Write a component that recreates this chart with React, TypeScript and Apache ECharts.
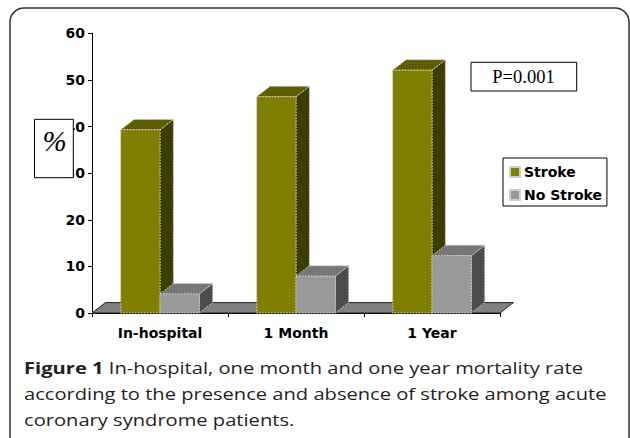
import React, { useEffect, useRef } from 'react';
import * as echarts from 'echarts';

const categories = ['In-hospital', '1 Month', '1 Year'];
const strokeValues = [39.3, 46.4, 52.1];
const noStrokeValues = [4.1, 7.9, 12.3];
const seriesNames = ['Stroke', 'No Stroke'];
const yMin = 0;
const yMax = 60;
const yInterval = 10;
const pValueText = 'P=0.001';
const yUnitText = '%';
const captionBold = 'Figure 1';
const captionLines = [
  ' In-hospital, one month and one year mortality rate',
  'according to the presence and absence of stroke among acute',
  'coronary syndrome patients.',
];

const BAR_RATIO = 0.289;
const DEPTH_X_RATIO = 0.0985;
const DEPTH_Y = 10.4;

const strokeColors = { front: '#808000', top: '#5e5e00', side: '#3d3d00' };
const noStrokeColors = { front: '#999999', top: '#777777', side: '#4d4d4d' };
const edge = { stroke: '#cfcfcf', lineWidth: 1, lineDash: [1.5, 1.5] };

const CAPTION_FONT = 'Open Sans';
const CAPTION_SIZE = 16.5;
const CAPTION_X = 24;
// measured reference: "among" begins at x≈485 on line 2
const CAPTION_REF_PREFIX = 'according to the presence and absence of stroke ';
const CAPTION_REF_WIDTH = 461;

function measure(text: string, font: string) {
  const c = document.createElement('canvas').getContext('2d');
  if (!c) return text.length * 8;
  c.font = font;
  return c.measureText(text).width;
}

function makeBarRender(colors: any, side: 'left' | 'right') {
  return (params: any, api: any) => {
    const idx = api.value(0);
    const val = api.value(1);
    const top = api.coord([idx, val]);
    const base = api.coord([idx, 0]);
    const band = api.size([1, 0])[0];
    const w = band * BAR_RATIO;
    const x0 = side === 'left' ? top[0] - w : top[0];
    const x1 = x0 + w;
    const dx = band * DEPTH_X_RATIO;
    const dy = DEPTH_Y;
    return {
      type: 'group',
      children: [
        {
          type: 'polygon',
          shape: { points: [[x1, top[1]], [x1 + dx, top[1] - dy], [x1 + dx, base[1] - dy], [x1, base[1]]] },
          style: { fill: colors.side, ...edge },
        },
        {
          type: 'polygon',
          shape: { points: [[x0, top[1]], [x0 + dx, top[1] - dy], [x1 + dx, top[1] - dy], [x1, top[1]]] },
          style: { fill: colors.top, ...edge },
        },
        {
          type: 'rect',
          shape: { x: x0, y: top[1], width: w, height: base[1] - top[1] },
          style: { fill: colors.front, ...edge },
        },
      ],
    };
  };
}

const floorRender = (params: any, api: any) => {
  const c = api.coord([0, 0]);
  const band = api.size([1, 0])[0];
  const left = c[0] - band / 2;
  const right = left + band * categories.length;
  const dx = band * DEPTH_X_RATIO;
  const dy = DEPTH_Y;
  const y = c[1];
  return {
    type: 'polygon',
    shape: { points: [[left, y], [right, y], [right + dx, y - dy], [left + dx, y - dy]] },
    style: { fill: '#808080', stroke: '#222', lineWidth: 1 },
  };
};

const chartFont = 'DejaVu Sans';

export default function App() {
  const ref = useRef<HTMLDivElement>(null);
  useEffect(() => {
    if (!ref.current) return;
    const chart = echarts.init(ref.current, null, { renderer: 'svg' });
    const w = measure(CAPTION_REF_PREFIX, `${CAPTION_SIZE}px "${CAPTION_FONT}"`);
    const capScale = w > 0 ? CAPTION_REF_WIDTH / w : 1;
    const capStyle = { fontFamily: CAPTION_FONT, fontSize: CAPTION_SIZE, fill: '#231f20', verticalAlign: 'middle' };
    const option: any = {
      animation: false,
      backgroundColor: '#ffffff',
      grid: { left: 92, right: 130, top: 33.3, bottom: 125 },
      xAxis: {
        type: 'category',
        data: categories,
        axisLine: { show: true, lineStyle: { color: '#000', width: 1 } },
        axisTick: { show: true, length: 4, interval: 0, lineStyle: { color: '#000' } },
        axisLabel: {
          interval: 0,
          margin: 13,
          color: '#000',
          fontFamily: chartFont,
          fontWeight: 'bold',
          fontSize: 14,
        },
        splitLine: { show: false },
      },
      yAxis: {
        type: 'value',
        min: yMin,
        max: yMax,
        interval: yInterval,
        axisLine: { show: true, lineStyle: { color: '#000', width: 1 } },
        axisTick: { show: true, length: 4, lineStyle: { color: '#000' } },
        axisLabel: {
          margin: 7,
          color: '#000',
          fontFamily: chartFont,
          fontWeight: 'bold',
          fontSize: 14,
        },
        splitLine: { show: false },
      },
      legend: {
        data: seriesNames,
        orient: 'vertical',
        left: 503,
        top: 158,
        icon: 'rect',
        itemWidth: 10,
        itemHeight: 10,
        itemGap: 9,
        padding: [7, 5, 4, 6],
        borderColor: '#000',
        borderWidth: 1,
        selectedMode: false,
        textStyle: { fontFamily: chartFont, fontWeight: 'bold', fontSize: 14, color: '#000', padding: [0, 0, 0, -1] },
      },
      series: [
        {
          name: 'floor',
          type: 'custom',
          silent: true,
          z: 1,
          data: [[0, 0]],
          renderItem: floorRender,
        },
        {
          name: seriesNames[0],
          type: 'custom',
          z: 2,
          itemStyle: { color: strokeColors.front, borderColor: '#cfcfcf', borderWidth: 1, borderType: 'dotted' },
          data: strokeValues.map((v, i) => [i, v]),
          encode: { x: 0, y: 1 },
          renderItem: makeBarRender(strokeColors, 'left'),
        },
        {
          name: seriesNames[1],
          type: 'custom',
          z: 3,
          itemStyle: { color: noStrokeColors.front, borderColor: '#cfcfcf', borderWidth: 1, borderType: 'dotted' },
          data: noStrokeValues.map((v, i) => [i, v]),
          encode: { x: 0, y: 1 },
          renderItem: makeBarRender(noStrokeColors, 'right'),
        },
      ],
      graphic: [
        {
          type: 'rect',
          z: 100,
          silent: true,
          shape: { x: 10, y: 8, width: 619, height: 460, r: 14 },
          style: { fill: 'none', stroke: '#333', lineWidth: 1.5 },
        },
        {
          type: 'rect',
          z: 100,
          shape: { x: 34.5, y: 119.3, width: 38.8, height: 58.4 },
          style: { fill: '#fff', stroke: '#000', lineWidth: 1 },
        },
        {
          type: 'text',
          z: 101,
          x: 54.7,
          y: 140.5,
          style: {
            text: yUnitText,
            fontFamily: 'Liberation Serif',
            fontStyle: 'italic',
            fontSize: 29,
            fill: '#000',
            align: 'center',
            verticalAlign: 'middle',
          },
        },
        {
          type: 'rect',
          z: 100,
          shape: { x: 471, y: 62.3, width: 105.7, height: 28.7 },
          style: { fill: '#fff', stroke: '#000', lineWidth: 1 },
        },
        {
          type: 'text',
          z: 101,
          x: 523.5,
          y: 76.7,
          style: {
            text: pValueText,
            fontFamily: 'Liberation Serif',
            fontSize: 18.5,
            fill: '#000',
            align: 'center',
            verticalAlign: 'middle',
          },
        },
        {
          type: 'text',
          z: 101,
          x: CAPTION_X,
          y: 367.5,
          scaleX: capScale,
          style: {
            text: '{b|' + captionBold + '}' + captionLines[0],
            ...capStyle,
            rich: { b: { fontFamily: CAPTION_FONT, fontWeight: 'bold', fontSize: CAPTION_SIZE, fill: '#231f20' } },
          },
        },
        {
          type: 'text',
          z: 101,
          x: CAPTION_X,
          y: 393.5,
          scaleX: capScale,
          style: { text: captionLines[1], ...capStyle },
        },
        {
          type: 'text',
          z: 101,
          x: CAPTION_X,
          y: 419.5,
          scaleX: capScale,
          style: { text: captionLines[2], ...capStyle },
        },
      ],
    };
    chart.setOption(option);
    return () => chart.dispose();
  }, []);
  return <div ref={ref} style={{ position: 'fixed', left: 0, top: 0, width: 630, height: 438 }} />;
}
